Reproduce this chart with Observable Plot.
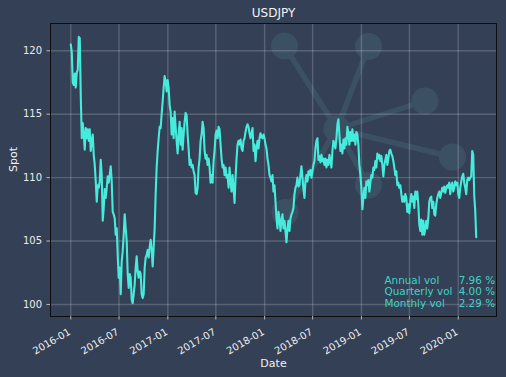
<!DOCTYPE html>
<html><head><meta charset="utf-8">
<script src="https://cdn.jsdelivr.net/npm/d3@7"></script>
<script src="https://cdn.jsdelivr.net/npm/@observablehq/plot@0.6"></script>
<style>
html,body{margin:0;padding:0;background:#344056;}
#chart{width:506px;height:377px;}
</style></head><body><div id="chart"></div>
<script>
const title = "USDJPY";
const xLabel = "Date";
const yLabel = "Spot";
const sampleStart = "2016-01-01";
const sampleStepDays = 3.7656;
const spot = [
120.5,119.9,117.5,117.3,118.2,117.1,118.3,118.5,121.1,121.0,
116.5,113.1,114.3,113.4,112.2,113.9,113.1,113.8,112.9,113.8,
112.1,112.9,113.4,111.8,111.0,109.7,108.1,109.4,109.2,109.7,
111.4,110.2,106.6,107.6,109.1,108.4,109.2,110.1,109.6,110.2,
110.9,109.7,107.3,107.1,106.8,105.5,106.0,103.9,102.1,102.9,
100.8,103.4,104.2,105.5,107.1,106.0,105.0,102.4,101.3,102.4,
102.1,100.4,100.1,100.8,101.6,102.9,103.8,102.6,102.1,102.6,
102.4,100.8,100.5,100.8,102.9,103.7,103.9,104.3,103.7,104.5,
105.1,104.3,103.0,104.5,106.0,108.7,110.8,112.1,113.1,114.0,
113.9,115.0,116.0,117.1,118.0,117.6,116.8,117.7,117.1,115.7,
115.2,113.4,114.7,113.1,115.2,114.0,112.9,111.9,113.4,114.4,
112.6,113.9,112.2,113.4,114.4,115.1,114.9,113.4,112.3,111.0,
111.4,110.8,111.0,110.5,110.2,108.8,108.7,109.2,110.8,111.5,
112.9,113.4,114.4,113.9,112.1,111.5,111.8,111.0,111.5,110.8,
109.6,110.2,109.6,111.3,112.1,113.4,113.7,113.1,114.0,113.8,
112.6,111.5,110.8,111.0,110.2,110.8,110.0,110.2,109.2,110.8,
109.7,108.9,110.2,109.2,108.0,110.0,111.5,112.6,112.9,112.6,
113.0,112.3,112.1,112.9,113.1,113.6,114.0,114.2,114.0,113.5,
113.1,113.5,113.9,112.1,112.6,111.3,112.3,112.9,112.3,113.1,
113.5,113.2,113.1,113.4,113.1,112.6,112.3,111.5,111.0,110.2,
110.0,109.7,110.2,108.9,109.4,108.1,106.8,106.0,107.3,106.8,
105.8,106.6,107.1,106.0,106.6,105.8,104.9,106.0,106.6,105.8,
106.8,107.1,107.3,107.6,108.7,109.2,109.4,110.0,109.3,109.4,
110.2,110.9,110.0,109.1,108.4,109.7,110.2,109.7,110.5,110.2,
110.6,110.0,110.5,111.0,111.3,112.3,112.9,113.1,111.4,111.7,
111.2,111.8,111.3,111.5,111.0,111.5,110.8,111.4,111.0,111.8,
111.3,110.8,112.1,112.9,112.6,112.3,113.1,114.2,114.6,113.4,
112.1,112.6,111.9,113.0,112.3,113.1,112.6,114.0,113.5,112.6,
113.6,112.9,113.8,112.9,113.4,112.6,113.6,113.4,112.6,111.0,
110.2,109.2,107.5,108.4,109.2,108.4,109.7,109.4,109.8,108.9,
109.6,110.2,110.0,110.8,110.6,111.3,110.8,111.9,111.5,111.8,
111.3,111.7,111.0,110.1,111.0,111.4,111.8,111.0,111.5,112.1,
112.2,111.9,111.7,111.3,110.8,110.2,110.5,109.4,109.6,109.2,
109.4,108.7,108.1,108.5,108.1,108.7,108.4,107.3,107.9,107.2,
108.1,108.7,108.1,108.5,107.6,108.9,108.3,108.9,107.9,106.3,
105.8,106.7,105.5,106.6,105.5,106.0,106.6,106.0,106.8,108.1,
108.4,108.5,107.6,108.1,107.1,107.0,107.9,108.4,108.7,108.9,
108.4,108.8,109.2,108.9,109.3,108.8,109.2,109.4,109.2,109.6,
108.7,109.4,109.6,108.9,109.2,109.7,109.4,109.6,108.7,108.4,
109.2,109.7,110.1,110.3,109.6,109.2,108.7,109.8,110.0,109.8,
110.0,110.1,112.1,111.8,108.6,107.4,105.3
];
const xTickLabels = ["2016-01","2016-07","2017-01","2017-07","2018-01","2018-07","2019-01","2019-07","2020-01"];
const yTickValues = [100, 105, 110, 115, 120];
const volLabels = ["Annual vol", "Quarterly vol", "Monthly vol"];
const volValues = ["7.96 %", "4.00 %", "2.29 %"];

const t0 = d3.utcParse("%Y-%m-%d")(sampleStart);
const series = spot.map((v, i) => ({date: new Date(+t0 + i * sampleStepDays * 864e5), value: v}));
const xTicks = xTickLabels.map(d3.utcParse("%Y-%m"));
const [x0, x1] = d3.extent(series, d => d.date);
const xPad = (x1 - x0) * 0.05;
const [y0, y1] = d3.extent(spot);
const yPad = (y1 - y0) * 0.05;

const bg = "#344056";
const chart = Plot.plot({
  width: 506, height: 377,
  marginLeft: 50, marginRight: 10, marginTop: 23, marginBottom: 61,
  style: {background: bg, color: "#e8e8e8", fontFamily: "DejaVu Sans", fontSize: "10px", overflow: "visible"},
  x: {type: "utc", domain: [new Date(+x0 - xPad), new Date(+x1 + xPad)]},
  y: {domain: [y0 - yPad, y1 + yPad]},
  marks: [
    Plot.gridX({ticks: xTicks, stroke: "#ffffff", strokeOpacity: 0.18, strokeWidth: 1.4}),
    Plot.gridY({ticks: yTickValues, stroke: "#ffffff", strokeOpacity: 0.18, strokeWidth: 1.4}),
    Plot.line(series, {x: "date", y: "value", stroke: "#45ebdb", strokeWidth: 2.1}),
    Plot.frame({stroke: "#0d0d0d", strokeWidth: 1}),
    Plot.axisX({ticks: xTicks, tickFormat: d3.utcFormat("%Y-%m"), tickRotate: -30, tickSize: 3.5, tickPadding: 5, fontSize: 10, stroke: "#b8b8b8", fill: "#ececec", label: null}),
    Plot.axisY({ticks: yTickValues, tickSize: 3.5, tickPadding: 5, fontSize: 10, stroke: "#b8b8b8", fill: "#ececec", label: null}),
    Plot.text([title], {frameAnchor: "top", dy: -10.5, lineAnchor: "middle", fontSize: 12, fill: "#f2f2f2"}),
    Plot.text([xLabel], {frameAnchor: "bottom", dy: 46.5, lineAnchor: "middle", fontSize: 11, fill: "#f2f2f2"}),
    Plot.text([yLabel], {frameAnchor: "left", dx: -37, dy: 2, rotate: -90, lineAnchor: "middle", fontSize: 11, fill: "#f2f2f2"}),
    Plot.text([volLabels.join("\n")], {frameAnchor: "bottom-right", textAnchor: "start", lineAnchor: "bottom", dx: -112, dy: -10, lineHeight: 1.09, fontSize: 10.4, fill: "#3fd3c5"}),
    Plot.text([volValues.join("\n")], {frameAnchor: "bottom-right", textAnchor: "end", lineAnchor: "bottom", dx: -1.5, dy: -10, lineHeight: 1.09, fontSize: 10.4, fill: "#3fd3c5"})
  ]
});
document.getElementById("chart").appendChild(chart);

// shift rotated x tick labels down a little, matching the reference placement
d3.select(chart).selectAll("g[aria-label='x-axis tick label']").each(function() {
  const t = this.getAttribute("transform") || "";
  this.setAttribute("transform", (t + " translate(-1,6)").trim());
});

// decorative watermark logo (not data)
(function addWatermark() {
  const svg = d3.select(chart);
  const g = svg.insert("g", ":first-child").attr("opacity", 0.2).attr("aria-hidden", "true");
  const hub = [337, 129];
  const nodes = [[284.5, 46], [368.5, 46.5], [425, 101], [452.5, 157], [368.5, 185], [285, 212.5]];
  const col = "#5c909c";
  nodes.forEach(n => g.append("line").attr("x1", hub[0]).attr("y1", hub[1]).attr("x2", n[0]).attr("y2", n[1]).attr("stroke", col).attr("stroke-width", 5.5));
  [hub, ...nodes].forEach(n => g.append("circle").attr("cx", n[0]).attr("cy", n[1]).attr("r", 13.5).attr("fill", col));
})();
</script>
</body></html>
